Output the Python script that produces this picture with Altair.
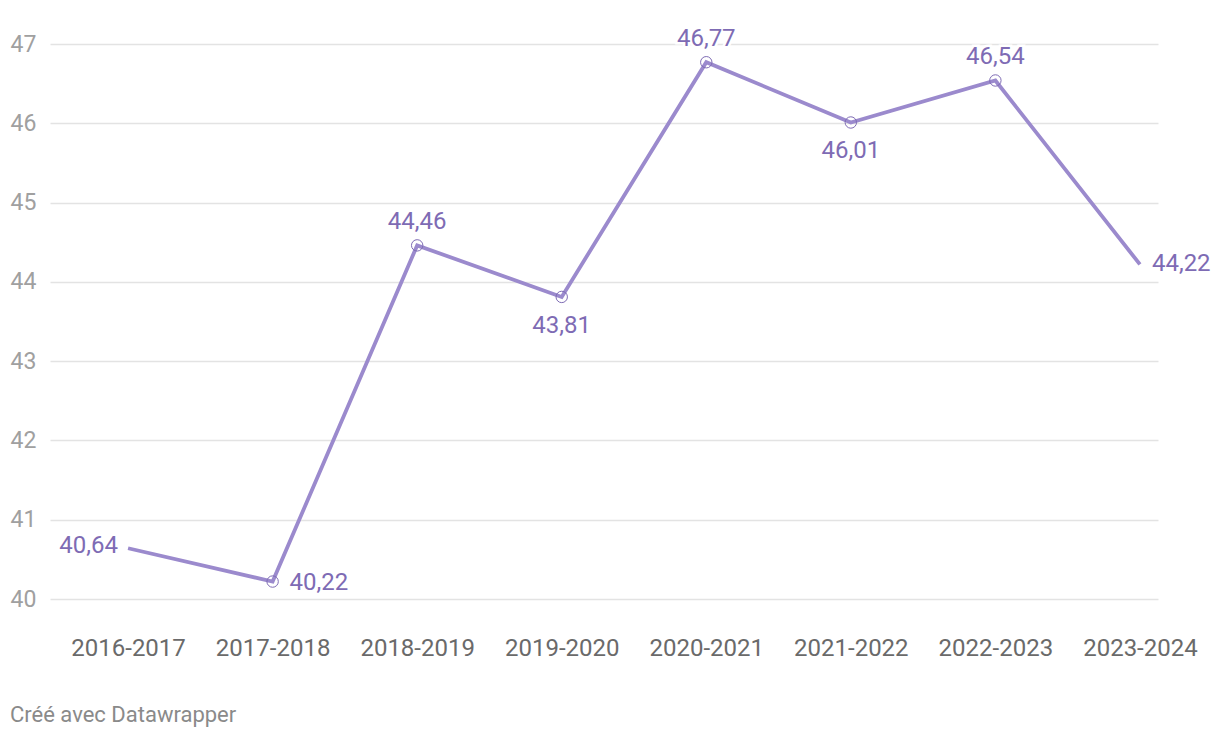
import altair as alt
import pandas as pd

seasons = ["2016-2017", "2017-2018", "2018-2019", "2019-2020",
           "2020-2021", "2021-2022", "2022-2023", "2023-2024"]
values = [40.64, 40.22, 44.46, 43.81, 46.77, 46.01, 46.54, 44.22]
labels = ["40,64", "40,22", "44,46", "43,81", "46,77", "46,01", "46,54", "44,22"]
placement = ["left", "right", "above", "below", "above", "below", "above", "end"]
show_marker = [False, True, True, True, True, True, True, False]
y_ticks = [40, 41, 42, 43, 44, 45, 46, 47]

df = pd.DataFrame({
    "idx": list(range(len(seasons))),
    "season": seasons,
    "value": values,
    "label": labels,
    "place": placement,
    "marker": show_marker,
})

LINE = "#9b8acd"
TEXT = "#7e6bb4"
FONT = "Roboto"
FS = 24

label_expr = "[" + ",".join(f"'{s}'" for s in seasons) + "][datum.value]"

x = alt.X("idx:Q",
          scale=alt.Scale(domain=[-0.54, 7.125], nice=False, zero=False),
          axis=alt.Axis(values=list(range(len(seasons))), labelExpr=label_expr,
                        grid=False, domain=False, ticks=False, title=None,
                        labelFont=FONT, labelFontSize=24, labelColor="#6a6a6a",
                        labelPadding=37, labelFlush=False, labelOverlap=False))
y = alt.Y("value:Q",
          scale=alt.Scale(domain=[40, 47], nice=False, zero=False),
          axis=alt.Axis(values=y_ticks, grid=True, gridColor="#e3e3e3", gridWidth=1.5,
                        domain=False, ticks=False, title=None,
                        labelFont=FONT, labelFontSize=23, labelColor="#a0a0a0",
                        labelAlign="left", labelPadding=40))

base = alt.Chart(df)

line = base.mark_line(color=LINE, strokeWidth=3.8, interpolate="linear").encode(x=x, y=y)

points = base.transform_filter("datum.marker").mark_point(
    shape="circle", filled=False, size=130, color=TEXT, strokeWidth=1, opacity=1
).encode(x=x, y=y)

def text_layer(place, align, dx, dy):
    sub = base.transform_filter(f"datum.place == '{place}'")
    halo = sub.mark_text(font=FONT, fontSize=FS, align=align, baseline="middle",
                         dx=dx, dy=dy, stroke="white", strokeWidth=5,
                         color="white").encode(x=x, y=y, text="label:N")
    txt = sub.mark_text(font=FONT, fontSize=FS, align=align, baseline="middle",
                        dx=dx, dy=dy, color=TEXT).encode(x=x, y=y, text="label:N")
    return [halo, txt]

texts = (text_layer("left", "right", -10, -2) + text_layer("right", "left", 17, 1)
         + text_layer("end", "left", 12, 0)
         + text_layer("above", "center", 0, -23) + text_layer("below", "center", 0, 29))

footer = alt.Chart(pd.DataFrame({"t": ["Créé avec Datawrapper"]})).mark_text(
    font=FONT, fontSize=22, align="left", baseline="middle", color="#8a8a8a"
).encode(x=alt.value(-40), y=alt.value(671), text="t:N")

chart = alt.layer(line, points, *texts, footer).properties(
    width=1108, height=555,
    background="white",
    autosize=alt.AutoSizeParams(type="none"),
    padding={"left": 50, "top": 44, "right": 62, "bottom": 139},
).configure_view(strokeWidth=0, stroke="transparent")

chart.save("out.html", embed_options={"renderer": "svg", "actions": False})
